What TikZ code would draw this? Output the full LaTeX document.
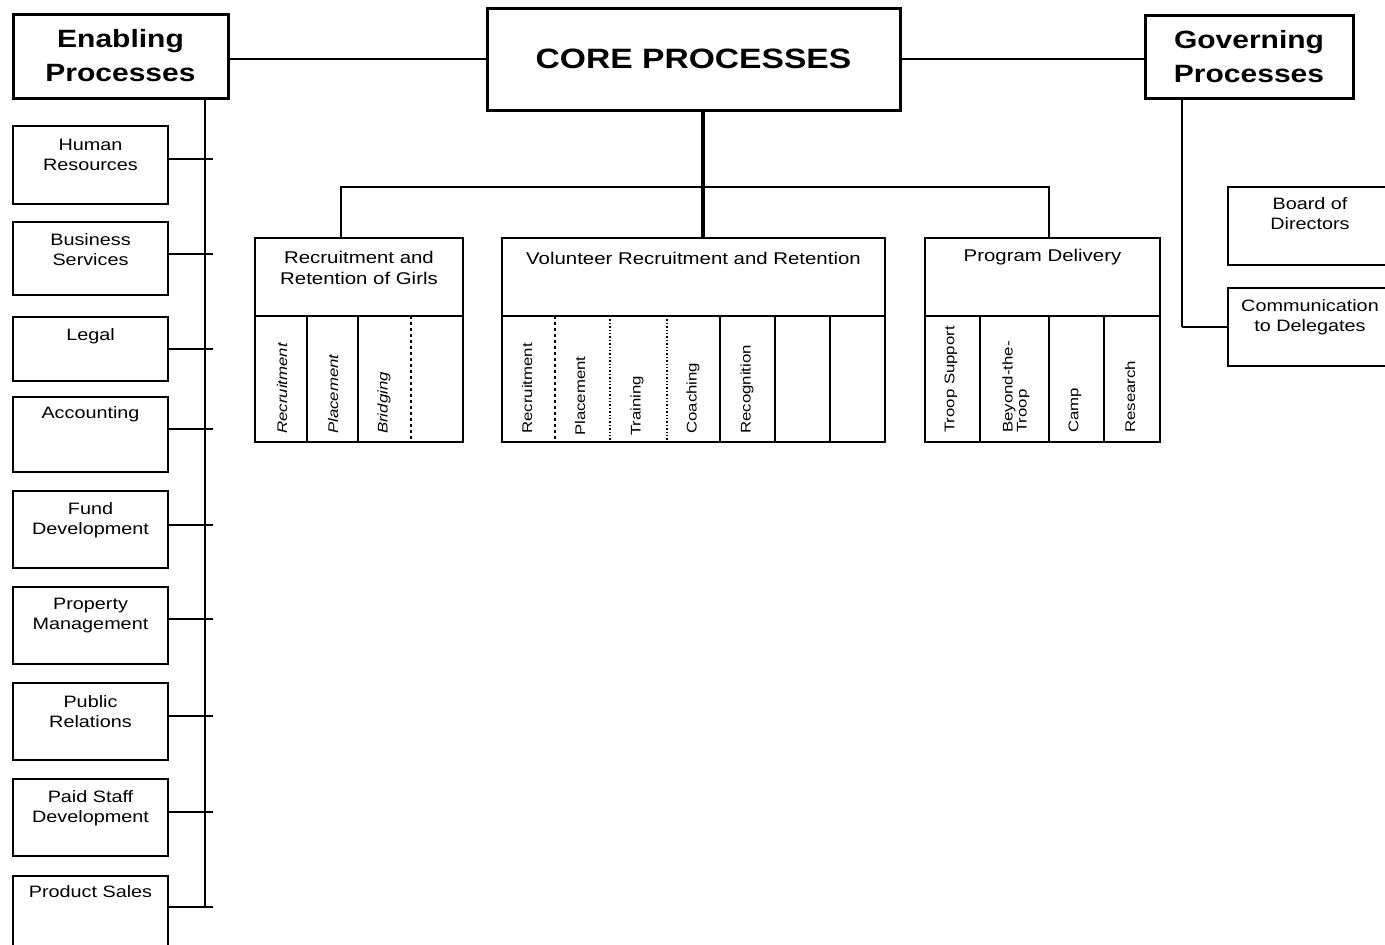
\documentclass[tikz,border=0pt]{standalone}
\usepackage{fontspec}
\setmainfont[FakeStretch=1.2]{Liberation Sans}
\begin{document}
\begin{tikzpicture}[x=1pt,y=-1pt,
  mainbox/.style={draw, line width=3pt, inner sep=0pt, align=center,
    font=\fontsize{25}{34}\selectfont\bfseries},
  smallbox/.style={draw, line width=2.4pt, inner sep=0pt, minimum width=155pt},
  smalltext/.style={inner sep=0pt, align=center, font=\fontsize{16.5}{20}\selectfont},
  subbox/.style={draw, line width=1.6pt, inner sep=0pt},
  headtext/.style={inner sep=0pt, align=center, font=\fontsize{17}{21}\selectfont},
  coltext/.style={inner sep=0pt, rotate=90, anchor=west, align=left,
    font=\fontsize{14}{14}\selectfont},
  conn/.style={line width=1.5pt},
  thickconn/.style={line width=2.6pt}]
\useasboundingbox (0,0) rectangle (1385,945);
\fill[white] (0,0) rectangle (1385,945);
\clip (0,0) rectangle (1385,945);

% ---- main boxes
\node[mainbox, minimum width=215pt, minimum height=84pt] (enab) at (120.5,56) {Enabling\\Processes};
\node[mainbox, minimum width=413pt, minimum height=102pt, font=\fontsize{28}{34}\selectfont\bfseries] (core) at (693.5,59) {CORE PROCESSES};
\node[mainbox, minimum width=208pt, minimum height=83pt] (gov) at (1249,56.5) {Governing\\Processes};

\draw[conn] (core.west) -- (core.west -| enab.east);
\draw[conn] (core.east) -- (core.east -| gov.west);

% ---- enabling processes
\node[smallbox, minimum height=78pt] (hr)   at (90.5,165)   {};
\node[smallbox, minimum height=73pt] (bs)   at (90.5,258.5) {};
\node[smallbox, minimum height=64pt] (lg)   at (90.5,349)   {};
\node[smallbox, minimum height=75pt] (acc)  at (90.5,434.5) {};
\node[smallbox, minimum height=77pt] (fund) at (90.5,529.5) {};
\node[smallbox, minimum height=77pt] (prop) at (90.5,625.5) {};
\node[smallbox, minimum height=77pt] (pr)   at (90.5,721.5) {};
\node[smallbox, minimum height=77pt] (paid) at (90.5,817.5) {};
\node[smallbox, minimum height=80pt] (prod) at (90.5,916)   {};

\node[smalltext] (hrT)   at (90.5,155) {Human\\Resources};
\node[smalltext] (bsT)   at (90.5,250) {Business\\Services};
\node[smalltext] (lgT)   at (90.5,336) {Legal};
\node[smalltext] (accT)  at (90.5,414) {Accounting};
\node[smalltext] (fundT) at (90.5,520) {Fund\\Development};
\node[smalltext] (propT) at (90.5,616) {Property\\Management};
\node[smalltext] (prT)   at (90.5,712) {Public\\Relations};
\node[smalltext] (paidT) at (90.5,808) {Paid Staff\\Development};
\node[smalltext] (prodT) at (90.5,892) {Product Sales};

\coordinate (ebot) at (205,907);
\draw[thickconn] (enab.south -| ebot) -- (ebot);
\draw[conn] ([yshift=6pt]hr.east) -- ++(44,0);
\draw[conn] ([yshift=4.5pt]bs.east) -- ++(44,0);
\draw[conn] (lg.east) -- ++(44,0);
\draw[conn] ([yshift=5.5pt]acc.east) -- ++(44,0);
\draw[conn] ([yshift=4.5pt]fund.east) -- ++(44,0);
\draw[conn] ([yshift=6.5pt]prop.east) -- ++(44,0);
\draw[conn] ([yshift=5.5pt]pr.east) -- ++(44,0);
\draw[conn] ([yshift=5.5pt]paid.east) -- ++(44,0);
\draw[conn] ([yshift=9pt]prod.east) -- ++(44,0);

% ---- governing processes
\node[smallbox, line width=1.8pt, minimum width=162pt, minimum height=78pt] (bod)  at (1309,226) {};
\node[smallbox, line width=1.8pt, minimum width=162pt, minimum height=78pt] (comm) at (1309,327) {};
\node[smalltext] (bodT)  at (1310,214) {Board of\\Directors};
\node[smalltext] (commT) at (1310,317) {Communication\\to Delegates};
\coordinate (gbot) at (1182,327);
\draw[thickconn] (gov.south -| gbot) -- (gbot);
\draw[conn] (gbot) -- (comm.west);

% ---- core process groups
\node[subbox, minimum width=208pt, minimum height=204pt] (girls) at (359,340) {};
\node[subbox, minimum width=383pt, minimum height=204pt] (vol)   at (693.5,340) {};
\node[subbox, minimum width=235pt, minimum height=204pt] (prog)  at (1042.5,340) {};

\coordinate (jL) at (341,187);
\coordinate (jC) at (703,187);
\coordinate (jR) at (1049,187);
\draw[thickconn] (girls.north -| jL) -- (jL) -- (jR) -- (prog.north -| jR);
\draw[line width=4pt] (core.south -| jC) -- (vol.north -| jC);

% headers
\node[headtext] (girlsT) at (359,268) {Recruitment and\\Retention of Girls};
\node[headtext] (volT)   at (693.5,258) {Volunteer Recruitment and Retention};
\node[headtext] (progT)  at (1042.5,257) {Program Delivery};

\draw[line width=1.6pt] (255,316) -- (463,316);
\draw[line width=1.6pt] (502,316) -- (885,316);
\draw[line width=1.6pt] (925,316) -- (1160,316);

% column dividers
\draw[line width=1.6pt] (307,316) -- (307,442);
\draw[line width=1.6pt] (358,316) -- (358,442);
\draw[line width=1.2pt, dashed] (411,316) -- (411,442);

\draw[line width=1.2pt, dashed] (555,316) -- (555,442);
\draw[line width=1.4pt, dotted] (610,316) -- (610,442);
\draw[line width=1.4pt, dotted] (667,316) -- (667,442);
\draw[line width=1.6pt] (720,316) -- (720,442);
\draw[line width=1.6pt] (775,316) -- (775,442);
\draw[line width=1.6pt] (830,316) -- (830,442);

\draw[line width=1.6pt] (980,316) -- (980,442);
\draw[line width=1.6pt] (1049,316) -- (1049,442);
\draw[line width=1.6pt] (1104,316) -- (1104,442);

% column labels
\node[coltext, font=\fontsize{14}{14}\selectfont\itshape] (g1) at (282,434) {Recruitment};
\node[coltext, font=\fontsize{14}{14}\selectfont\itshape] (g2) at (333,434) {Placement};
\node[coltext, font=\fontsize{14}{14}\selectfont\itshape] (g3) at (384,434) {Bridging};

\node[coltext] (v1) at (527,434) {Recruitment};
\node[coltext] (v2) at (580,436) {Placement};
\node[coltext] (v3) at (637,436) {Training};
\node[coltext] (v4) at (693,434) {Coaching};
\node[coltext] (v5) at (747,434) {Recognition};

\node[coltext] (p1) at (951,433) {Troop Support};
\node[coltext] (p2) at (1016,433) {Beyond-the-\\Troop};
\node[coltext] (p3) at (1075,433) {Camp};
\node[coltext] (p4) at (1130,433) {Research};
\end{tikzpicture}
\end{document}
